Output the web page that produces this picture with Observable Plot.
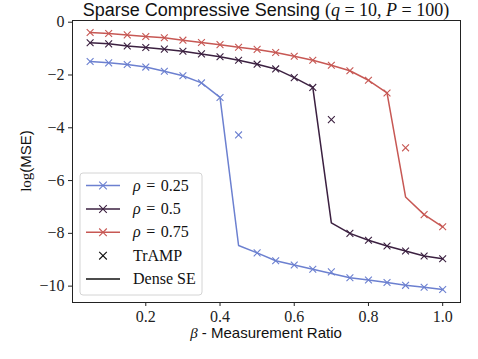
<!DOCTYPE html>
<html><head><meta charset="utf-8">
<script src="https://cdn.jsdelivr.net/npm/d3@7"></script>
<script src="https://cdn.jsdelivr.net/npm/@observablehq/plot@0.6"></script>
<style>body{margin:0;background:#fff}</style>
</head><body><div id="chart"></div>
<script>
const beta = [0.05,0.10,0.15,0.20,0.25,0.30,0.35,0.40,0.45,0.50,0.55,0.60,0.65,0.70,0.75,0.80,0.85,0.90,0.95,1.00];
const rhoLabels = ["0.25","0.5","0.75"];
const colors = ["#6c80d0","#3b2040","#c75854"];
const se25 = [-1.49,-1.54,-1.60,-1.70,-1.86,-2.03,-2.30,-2.85,-8.46,-8.74,-9.04,-9.20,-9.36,-9.52,-9.68,-9.77,-9.86,-9.97,-10.04,-10.13];
const tr25 = [-1.49,-1.54,-1.60,-1.70,-1.86,-2.03,-2.30,-2.85,-4.27,-8.74,-9.04,-9.20,-9.36,-9.46,-9.68,-9.77,-9.86,-9.97,-10.04,-10.13];
const se50 = [-0.78,-0.82,-0.90,-0.96,-1.02,-1.10,-1.20,-1.31,-1.44,-1.59,-1.77,-2.10,-2.47,-7.60,-8.00,-8.26,-8.48,-8.67,-8.86,-8.96];
const tr50 = [-0.78,-0.82,-0.90,-0.96,-1.02,-1.10,-1.20,-1.31,-1.44,-1.59,-1.77,-2.10,-2.47,-3.69,-8.00,-8.26,-8.48,-8.67,-8.86,-8.96];
const se75 = [-0.39,-0.43,-0.48,-0.54,-0.59,-0.68,-0.77,-0.85,-0.95,-1.03,-1.15,-1.29,-1.44,-1.63,-1.84,-2.20,-2.68,-6.62,-7.29,-7.75];
const tr75 = [-0.39,-0.43,-0.48,-0.54,-0.59,-0.68,-0.77,-0.85,-0.95,-1.03,-1.15,-1.29,-1.44,-1.63,-1.84,-2.20,-2.68,-4.76,-7.29,-7.75];
const xTicks = [0.2,0.4,0.6,0.8,1.0];
const yTicks = [0,-2,-4,-6,-8,-10];

const seSeries = [se25, se50, se75];
const trSeries = [tr25, tr50, tr75];
const seRows = [], trRows = [];
rhoLabels.forEach((r, i) => {
  beta.forEach((b, j) => {
    seRows.push({beta: b, v: seSeries[i][j], rho: r});
    trRows.push({beta: b, v: trSeries[i][j], rho: r});
  });
});

const W = 478, H = 359;
const serif = "'Liberation Serif', serif";
const sans = "'Liberation Sans', sans-serif";
const plot = Plot.plot({
  width: W, height: H,
  marginLeft: 72, marginRight: 18, marginTop: 20, marginBottom: 57,
  style: {color: "#222", background: "#fff"},
  x: {domain: [0.0025, 1.048]},
  y: {domain: [-10.62, 0.065]},
  color: {domain: rhoLabels, range: colors},
  marks: [
    Plot.axisX({ticks: xTicks, tickFormat: d3.format(".1f"), label: null, tickSize: 4, tickPadding: 4}),
    Plot.axisY({ticks: yTicks, tickFormat: d3.format("d"), label: null, tickSize: 4, tickPadding: 4}),
    Plot.line(seRows, {x: "beta", y: "v", z: "rho", stroke: "rho", strokeWidth: 1.5}),
    Plot.dot(trRows, {x: "beta", y: "v", stroke: "rho", symbol: "times", r: 3.2, strokeWidth: 1.1}),
    Plot.frame({stroke: "#222", strokeWidth: 1})
  ]
});
document.getElementById("chart").appendChild(plot);

const svg = d3.select(plot);
// tick labels in serif
svg.selectAll("text").style("font-family", serif).style("font-size", "16px").attr("fill", "#222");

const cx = (72 + (W - 18)) / 2;
const txt = (parent) => parent.append("text").style("font-size", "16px").attr("fill", "#111");
const span = (t, fam, str, italic) => {
  const s = t.append("tspan").style("font-family", fam).text(str);
  if (italic) s.style("font-style", "italic");
  return s;
};

// title
const t = txt(svg).attr("x", cx).attr("y", 15.5).style("text-anchor", "middle").style("font-size", "18px");
span(t, sans, "Sparse Compressive Sensing ");
span(t, serif, "(");
span(t, serif, "q", true);
span(t, serif, " = 10, ");
span(t, serif, "P", true);
span(t, serif, " = 100)");

// x label
const xl = txt(svg).attr("x", cx).attr("y", 338).style("text-anchor", "middle").style("font-size", "15px");
span(xl, serif, "β", true);
span(xl, sans, " - Measurement Ratio");

// y label
const yl = txt(svg).attr("transform", `translate(31,161) rotate(-90)`).style("text-anchor", "middle").style("font-size", "15px");
span(yl, serif, "log");
span(yl, sans, "(MSE)");

// legend
const lg = svg.append("g");
lg.append("rect").attr("x", 80).attr("y", 173).attr("width", 122).attr("height", 122)
  .attr("rx", 3).attr("fill", "#fff").attr("fill-opacity", 0.85).attr("stroke", "#d4d4d4");
const rowsY = [185.5, 209, 232.3, 255.7, 279];
const xMark = (g, x, y, c) => {
  const s = 3.8;
  g.append("path").attr("d", `M${x-s},${y-s}L${x+s},${y+s}M${x-s},${y+s}L${x+s},${y-s}`)
    .attr("stroke", c).attr("stroke-width", 1.1).attr("fill", "none");
};
rhoLabels.forEach((r, i) => {
  const y = rowsY[i];
  lg.append("line").attr("x1", 86).attr("x2", 120).attr("y1", y).attr("y2", y)
    .attr("stroke", colors[i]).attr("stroke-width", 1.5);
  xMark(lg, 103, y, colors[i]);
  const tx = txt(lg).attr("x", 133).attr("y", y + 5).style("text-anchor", "start");
  span(tx, serif, "ρ", true);
  span(tx, serif, " = " + r).style("word-spacing", "1.5px");
});
xMark(lg, 103, rowsY[3], "#111");
span(txt(lg).attr("x", 133).attr("y", rowsY[3] + 5).style("text-anchor", "start"), serif, "TrAMP");
lg.append("line").attr("x1", 86).attr("x2", 120).attr("y1", rowsY[4]).attr("y2", rowsY[4])
  .attr("stroke", "#111").attr("stroke-width", 1.5);
span(txt(lg).attr("x", 133).attr("y", rowsY[4] + 5).style("text-anchor", "start"), serif, "Dense SE");
</script>
</body></html>
